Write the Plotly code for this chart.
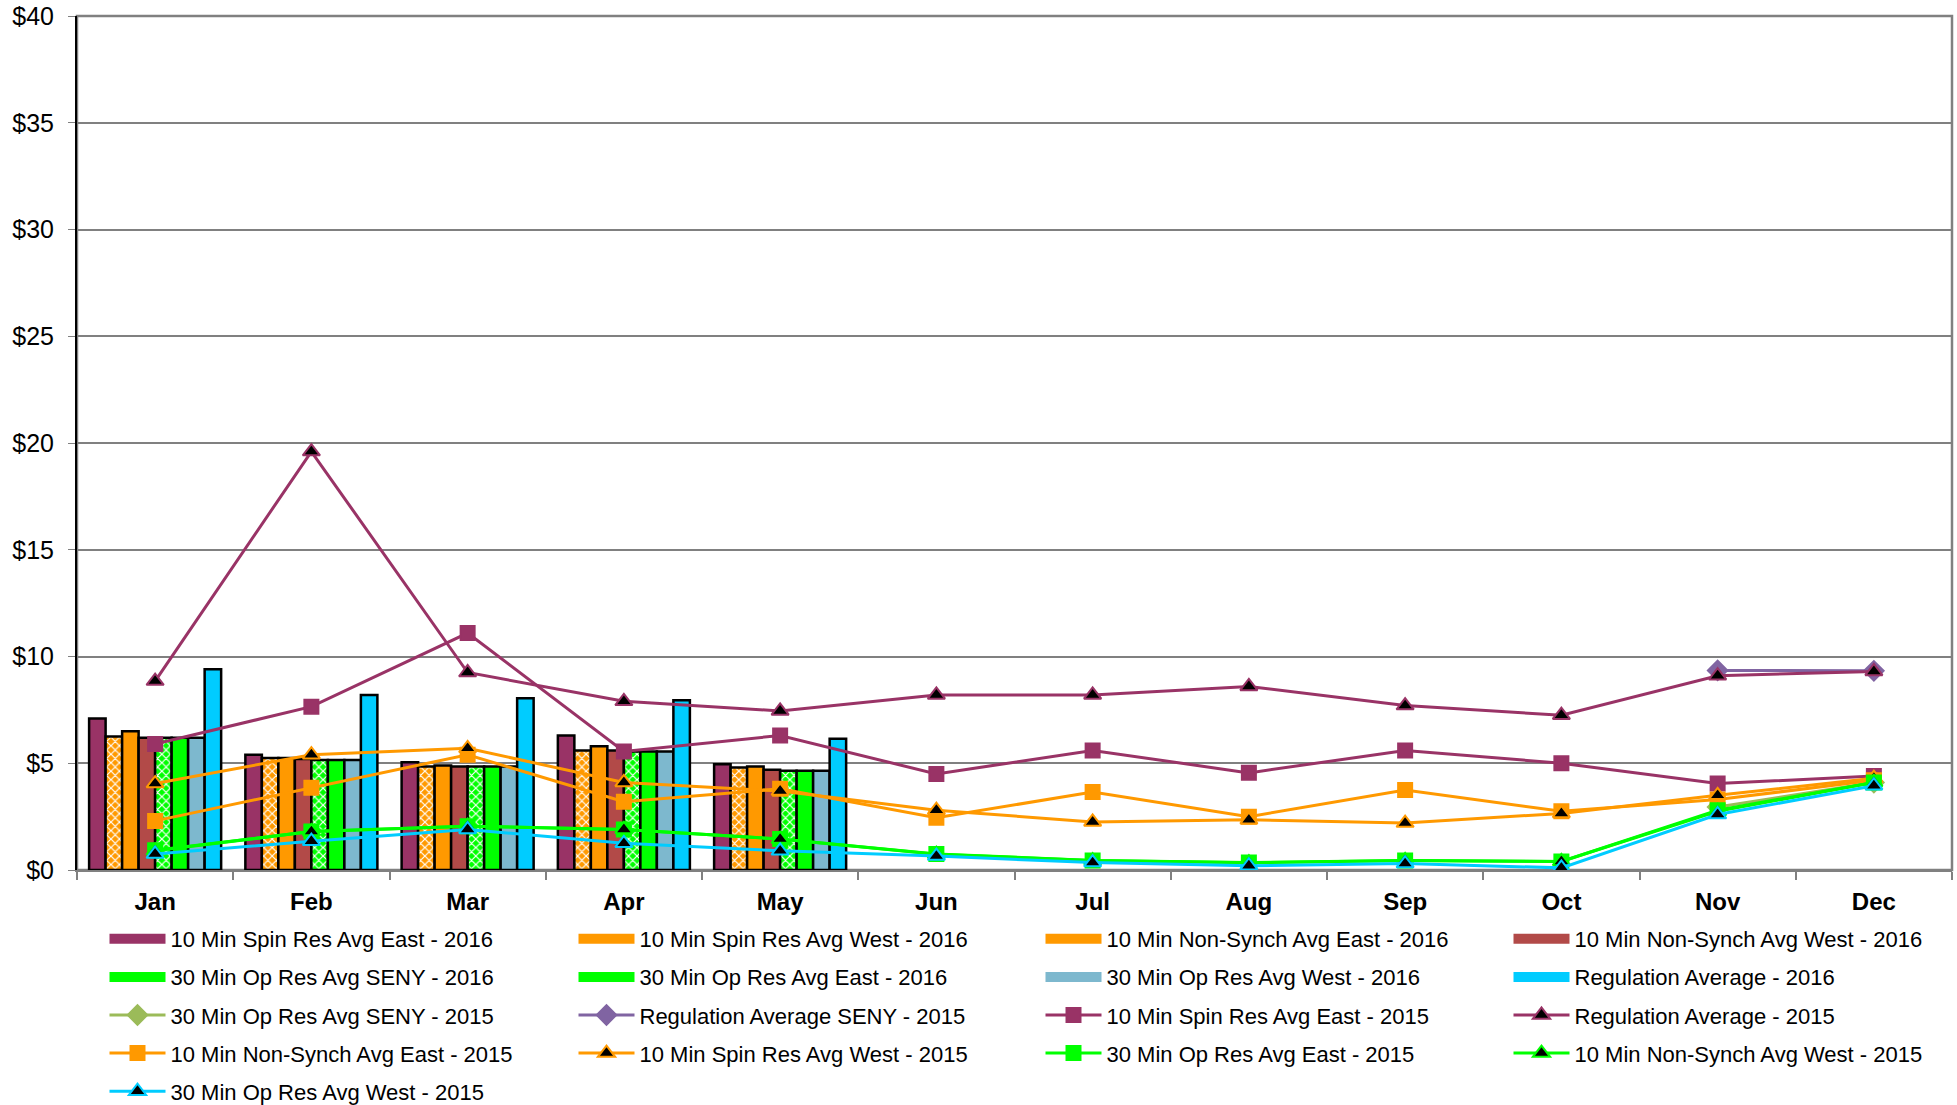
import plotly.graph_objects as go

months = ["Jan", "Feb", "Mar", "Apr", "May", "Jun", "Jul", "Aug", "Sep", "Oct", "Nov", "Dec"]
bar_months = ["Jan", "Feb", "Mar", "Apr", "May"]

# 2016 bars
spin_east_2016 = [7.1, 5.4, 5.05, 6.3, 4.95]
spin_west_2016 = [6.25, 5.25, 4.85, 5.6, 4.8]
nonsynch_east_2016 = [6.5, 5.25, 4.9, 5.8, 4.85]
nonsynch_west_2016 = [6.2, 5.2, 4.85, 5.6, 4.7]
opres_seny_2016 = [6.2, 5.15, 4.85, 5.55, 4.65]
opres_east_2016 = [6.2, 5.15, 4.85, 5.55, 4.65]
opres_west_2016 = [6.2, 5.15, 4.85, 5.55, 4.65]
regulation_2016 = [9.4, 8.2, 8.05, 7.95, 6.15]

# 2015 lines
opres_seny_2015 = [None, None, None, None, None, None, None, None, None, None, 2.95, 4.1]
regulation_seny_2015 = [None, None, None, None, None, None, None, None, None, None, 9.35, 9.33]
spin_east_2015 = [5.9, 7.65, 11.1, 5.55, 6.3, 4.5, 5.6, 4.55, 5.6, 5.0, 4.05, 4.4]
regulation_2015 = [8.85, 19.6, 9.25, 7.9, 7.45, 8.2, 8.2, 8.6, 7.7, 7.25, 9.1, 9.3]
nonsynch_east_2015 = [2.3, 3.85, 5.4, 3.2, 3.8, 2.45, 3.65, 2.5, 3.75, 2.75, 3.3, 4.2]
spin_west_2015 = [4.05, 5.4, 5.7, 4.1, 3.7, 2.8, 2.25, 2.35, 2.2, 2.65, 3.5, 4.3]
opres_east_2015 = [0.92, 1.8, 2.05, 1.9, 1.45, 0.75, 0.45, 0.35, 0.45, 0.4, 2.8, 4.1]
nonsynch_west_2015 = [0.9, 1.8, 2.05, 1.9, 1.45, 0.74, 0.44, 0.34, 0.45, 0.4, 2.75, 4.1]
opres_west_2015 = [0.75, 1.35, 1.9, 1.25, 0.9, 0.65, 0.35, 0.2, 0.3, 0.1, 2.6, 3.95]

y_ticks = [0, 5, 10, 15, 20, 25, 30, 35, 40]

MAROON = "#993366"
ORANGE = "#FF9900"
BROWN = "#B24A48"
GREEN = "#00FF00"
STEEL = "#7DB8CE"
CYAN = "#00CCFF"
PURPLE = "#8064A2"
OLIVE = "#9BBB59"

FONT = "Arial, 'Liberation Sans', sans-serif"

fig = go.Figure()

bars = [
    ("10 Min Spin Res Avg East - 2016", spin_east_2016, MAROON, None, "legend"),
    ("10 Min Spin Res Avg West - 2016", spin_west_2016, ORANGE, "x", "legend2"),
    ("10 Min Non-Synch Avg East - 2016", nonsynch_east_2016, ORANGE, None, "legend3"),
    ("10 Min Non-Synch Avg West - 2016", nonsynch_west_2016, BROWN, None, "legend4"),
    ("30 Min Op Res Avg SENY - 2016", opres_seny_2016, GREEN, "x", "legend"),
    ("30 Min Op Res Avg East - 2016", opres_east_2016, GREEN, None, "legend2"),
    ("30 Min Op Res Avg West - 2016", opres_west_2016, STEEL, None, "legend3"),
    ("Regulation Average - 2016", regulation_2016, CYAN, None, "legend4"),
]
for i, (name, vals, col, pat, leg) in enumerate(bars):
    marker = dict(color=col, line=dict(color="black", width=2.5))
    if pat:
        marker["pattern"] = dict(shape=pat, fgcolor="white", bgcolor=col, size=6, solidity=0.35, fillmode="replace")
    fig.add_trace(go.Bar(x=bar_months, y=vals, name=name, marker=marker,
                         showlegend=False, legendgroup="g%d" % i))

# wide legend swatches for the bar series
for i, (name, vals, col, pat, leg) in enumerate(bars):
    fig.add_trace(go.Scatter(x=[None], y=[None], name=name, mode="lines",
                             line=dict(color=col, width=12),
                             legend=leg, legendgroup="g%d" % i, hoverinfo="skip"))

lines = [
    ("30 Min Op Res Avg SENY - 2015", opres_seny_2015, OLIVE, "diamond", OLIVE, OLIVE, "legend"),
    ("Regulation Average SENY - 2015", regulation_seny_2015, PURPLE, "diamond", PURPLE, PURPLE, "legend2"),
    ("10 Min Spin Res Avg East - 2015", spin_east_2015, MAROON, "square", MAROON, MAROON, "legend3"),
    ("Regulation Average - 2015", regulation_2015, MAROON, "triangle-up", "black", MAROON, "legend4"),
    ("10 Min Non-Synch Avg East - 2015", nonsynch_east_2015, ORANGE, "square", ORANGE, ORANGE, "legend"),
    ("10 Min Spin Res Avg West - 2015", spin_west_2015, ORANGE, "triangle-up", "black", ORANGE, "legend2"),
    ("30 Min Op Res Avg East - 2015", opres_east_2015, GREEN, "square", GREEN, GREEN, "legend3"),
    ("10 Min Non-Synch Avg West - 2015", nonsynch_west_2015, GREEN, "triangle-up", "black", GREEN, "legend4"),
    ("30 Min Op Res Avg West - 2015", opres_west_2015, CYAN, "triangle-up", "black", CYAN, "legend"),
]
for j, (name, vals, col, sym, fill, outline, leg) in enumerate(lines):
    size = 14 if sym == "square" else 15
    fig.add_trace(go.Scatter(
        x=months, y=vals, name=name, mode="lines+markers",
        line=dict(color=col, width=3),
        marker=dict(symbol=sym, size=size, color=fill, line=dict(color=outline, width=2)),
        legend=leg, legendgroup="l%d" % j, connectgaps=False,
    ))

col_x = [108, 577, 1044, 1512]
PLOT_L, PLOT_W, PLOT_B, PLOT_H = 77, 1875, 870, 854
legend_top_px = 918


def make_leg(px):
    return dict(
        orientation="v", x=(px - PLOT_L - 3.5) / PLOT_W, xanchor="left",
        y=(PLOT_B - legend_top_px) / PLOT_H, yanchor="top",
        font=dict(family=FONT, size=22, color="black"),
        bgcolor="rgba(0,0,0,0)", borderwidth=0, tracegroupgap=6.5,
        itemwidth=56, traceorder="grouped",
    )


fig.update_layout(
    width=1957, height=1105,
    margin=dict(l=77, r=5, t=16, b=235, autoexpand=False),
    paper_bgcolor="white", plot_bgcolor="white",
    barmode="group", bargap=0.155, bargroupgap=0,
    font=dict(family=FONT, color="black"),
    legend=make_leg(col_x[0]),
    legend2=make_leg(col_x[1]),
    legend3=make_leg(col_x[2]),
    legend4=make_leg(col_x[3]),
    shapes=[dict(type="rect", xref="paper", yref="paper", x0=0, x1=1, y0=0, y1=1,
                 line=dict(color="#808080", width=2.5), layer="below")],
)
fig.update_xaxes(
    type="category", categoryorder="array", categoryarray=months,
    range=[-0.5, 11.5],
    showgrid=False, showline=True, linecolor="#808080", linewidth=2,
    ticks="outside", tickson="boundaries", ticklen=8, tickcolor="#808080", tickwidth=1.5,
    tickfont=dict(family=FONT, size=24, color="black", weight="bold"),
    ticklabelstandoff=9, automargin=False,
)
fig.update_yaxes(
    range=[0, 40], tickvals=y_ticks, ticktext=["$%d" % v for v in y_ticks],
    showgrid=True, gridcolor="#808080", gridwidth=1.5,
    showline=True, linecolor="black", linewidth=2,
    ticks="outside", ticklen=7, tickcolor="#808080",
    tickfont=dict(family=FONT, size=25, color="black"),
    ticklabelstandoff=9, automargin=False, ticklabeloverflow="allow",
    zeroline=False,
)

fig.write_html(
    "out.html",
    config={"displayModeBar": False},
    post_script="document.body.style.margin='0';document.body.style.padding='0';",
)
